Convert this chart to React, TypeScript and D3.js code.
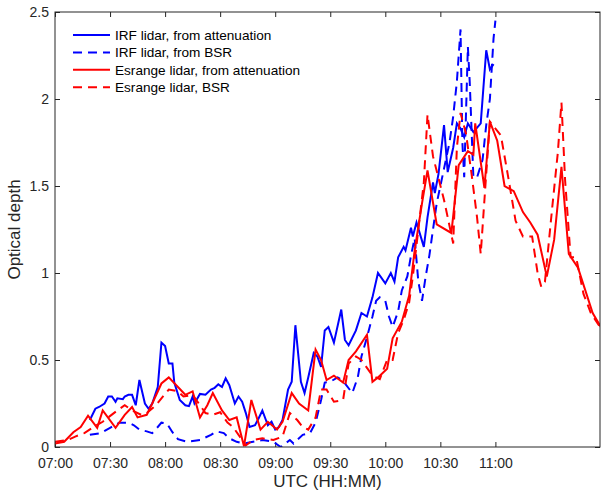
import React, { useEffect, useRef } from 'react';
import * as d3 from 'd3';

// [UTC time, optical depth]
const irfAttenuation: [string, number][] = [
    ['07:19', 0.155], ['07:22', 0.22], ['07:24', 0.23], ['07:27', 0.25], ['07:29', 0.29], ['07:31', 0.29],
    ['07:33', 0.26], ['07:34', 0.28], ['07:37', 0.275], ['07:38', 0.29], ['07:40', 0.3], ['07:42', 0.3],
    ['07:44', 0.24], ['07:46', 0.385], ['07:49', 0.25], ['07:51', 0.22], ['07:53', 0.25], ['07:56', 0.345],
    ['07:58', 0.6], ['08:00', 0.58], ['08:02', 0.48], ['08:04', 0.48], ['08:05', 0.37], ['08:08', 0.27],
    ['08:11', 0.24], ['08:13', 0.235], ['08:15', 0.29], ['08:16', 0.25], ['08:19', 0.305], ['08:22', 0.3],
    ['08:25', 0.33], ['08:27', 0.34], ['08:29', 0.36], ['08:31', 0.345], ['08:33', 0.395], ['08:35', 0.355],
    ['08:38', 0.25], ['08:40', 0.29], ['08:42', 0.26], ['08:44', 0.195], ['08:46', 0.115], ['08:49', 0.125],
    ['08:51', 0.165], ['08:53', 0.21], ['08:56', 0.125], ['08:58', 0.145], ['09:00', 0.1], ['09:02', 0.115],
    ['09:04', 0.155], ['09:07', 0.33], ['09:09', 0.375], ['09:11', 0.7], ['09:14', 0.375], ['09:16', 0.31],
    ['09:18', 0.4], ['09:21', 0.54], ['09:23', 0.52], ['09:25', 0.46], ['09:27', 0.67], ['09:29', 0.69],
    ['09:32', 0.6], ['09:36', 0.79], ['09:38', 0.615], ['09:40', 0.585], ['09:44', 0.67], ['09:47', 0.77],
    ['09:50', 0.75], ['09:53', 0.86], ['09:56', 1.0], ['10:00', 0.94], ['10:03', 1.0], ['10:05', 0.95],
    ['10:07', 1.09], ['10:10', 1.15], ['10:11', 1.13], ['10:14', 1.26], ['10:15', 1.21], ['10:17', 1.29],
    ['10:21', 1.15], ['10:23', 1.32], ['10:26', 1.52], ['10:27', 1.46], ['10:29', 1.57], ['10:32', 1.85],
    ['10:34', 1.58], ['10:37', 1.72], ['10:39', 1.86], ['10:41', 1.83], ['10:43', 1.78], ['10:45', 1.86],
    ['10:48', 1.81], ['10:52', 1.86], ['10:55', 2.28], ['10:57', 2.17], ['10:59', 2.2],
];

const irfBsr: [string, number][] = [
    ['07:19', 0.07], ['07:25', 0.08], ['07:30', 0.11], ['07:35', 0.14], ['07:40', 0.14], ['07:43', 0.125],
    ['07:46', 0.1], ['07:50', 0.09], ['07:53', 0.08], ['07:56', 0.115], ['07:58', 0.14], ['08:01', 0.135],
    ['08:04', 0.085], ['08:07', 0.045], ['08:12', 0.03], ['08:19', 0.04], ['08:25', 0.07], ['08:28', 0.09],
    ['08:32', 0.08], ['08:35', 0.05], ['08:39', 0.03], ['08:43', 0.02], ['08:53', 0.04], ['08:59', 0.03],
    ['09:03', 0.0], ['09:08', 0.04], ['09:10', 0.02], ['09:15', 0.07], ['09:19', 0.08], ['09:22', 0.14],
    ['09:25', 0.27], ['09:27', 0.37], ['09:30', 0.375], ['09:34', 0.4], ['09:37', 0.38], ['09:42', 0.31],
    ['09:45', 0.4], ['09:47', 0.52], ['09:50', 0.63], ['09:53', 0.75], ['09:55', 0.84], ['09:57', 0.86],
    ['10:00', 0.84], ['10:02', 0.75], ['10:04', 0.69], ['10:07', 0.78], ['10:09', 0.9], ['10:12', 0.98],
    ['10:14', 1.1], ['10:16', 1.2], ['10:18', 0.95], ['10:20', 0.84], ['10:22', 0.98], ['10:24', 1.1],
    ['10:26', 1.25], ['10:28', 1.4], ['10:30', 1.5], ['10:32', 1.6], ['10:35', 1.75], ['10:37', 1.9],
    ['10:39', 2.1], ['10:41', 2.4], ['10:42', 1.75], ['10:43', 1.55], ['10:45', 2.3], ['10:46', 2.1],
    ['10:48', 1.55], ['10:50', 1.55], ['10:53', 1.65], ['10:55', 1.85], ['10:57', 2.0], ['10:59', 2.35],
    ['11:00', 2.45],
];

const esrangeAttenuation: [string, number][] = [
    ['07:00', 0.02], ['07:05', 0.03], ['07:10', 0.085], ['07:14', 0.115], ['07:18', 0.18], ['07:23', 0.11],
    ['07:26', 0.21], ['07:33', 0.11], ['07:38', 0.185], ['07:42', 0.23], ['07:45', 0.17], ['07:50', 0.185],
    ['07:53', 0.25], ['07:58', 0.365], ['08:02', 0.4], ['08:07', 0.345], ['08:11', 0.3], ['08:15', 0.32],
    ['08:19', 0.17], ['08:23', 0.24], ['08:26', 0.31], ['08:31', 0.21], ['08:35', 0.155], ['08:39', 0.17],
    ['08:43', 0.005], ['08:47', 0.27], ['08:52', 0.1], ['08:56', 0.145], ['09:01', 0.1], ['09:04', 0.145],
    ['09:09', 0.31], ['09:13', 0.25], ['09:18', 0.21], ['09:22', 0.56], ['09:25', 0.5], ['09:28', 0.385],
    ['09:32', 0.41], ['09:37', 0.37], ['09:40', 0.5], ['09:44', 0.55], ['09:50', 0.645], ['09:53', 0.375],
    ['09:56', 0.4], ['10:01', 0.45], ['10:04', 0.625], ['10:09', 0.72], ['10:13', 0.87], ['10:16', 1.13],
    ['10:20', 1.4], ['10:23', 1.59], ['10:28', 1.28], ['10:36', 1.23], ['10:40', 1.62], ['10:45', 1.7],
    ['10:48', 1.68], ['10:49', 1.86], ['10:54', 1.49], ['10:57', 1.87], ['11:01', 1.76], ['11:05', 1.5],
    ['11:10', 1.47], ['11:15', 1.35], ['11:19', 1.29], ['11:23', 1.22], ['11:28', 0.98], ['11:32', 1.19],
    ['11:36', 1.61], ['11:40', 1.11], ['11:45', 1.03], ['11:49', 0.9], ['11:53', 0.77], ['11:58', 0.68],
];

const esrangeBsr: [string, number][] = [
    ['07:00', 0.03], ['07:07', 0.04], ['07:11', 0.06], ['07:16', 0.08], ['07:21', 0.115], ['07:26', 0.145],
    ['07:29', 0.17], ['07:34', 0.21], ['07:38', 0.24], ['07:42', 0.21], ['07:47', 0.185], ['07:50', 0.195],
    ['07:55', 0.24], ['07:58', 0.28], ['08:02', 0.33], ['08:07', 0.32], ['08:10', 0.29], ['08:15', 0.3],
    ['08:22', 0.195], ['08:26', 0.185], ['08:30', 0.2], ['08:34', 0.14], ['08:37', 0.115], ['08:44', 0.01],
    ['08:48', 0.04], ['08:53', 0.05], ['08:59', 0.04], ['09:04', 0.06], ['09:08', 0.195], ['09:12', 0.155],
    ['09:15', 0.115], ['09:18', 0.1], ['09:22', 0.17], ['09:25', 0.33], ['09:28', 0.33], ['09:32', 0.26],
    ['09:37', 0.27], ['09:40', 0.48], ['09:44', 0.52], ['09:47', 0.5], ['09:51', 0.44], ['09:53', 0.41],
    ['09:57', 0.39], ['10:01', 0.5], ['10:04', 0.5], ['10:07', 0.655], ['10:10', 0.73], ['10:13', 0.83],
    ['10:15', 0.98], ['10:18', 1.25], ['10:21', 1.52], ['10:23', 1.91], ['10:26', 1.67], ['10:32', 1.42],
    ['10:37', 1.17], ['10:39', 1.72], ['10:41', 1.92], ['10:44', 1.8], ['10:47', 1.57], ['10:50', 1.32],
    ['10:52', 1.11], ['10:55', 1.57], ['10:57', 1.87], ['11:03', 1.79], ['11:07', 1.55], ['11:11', 1.3],
    ['11:15', 1.21], ['11:20', 1.21], ['11:23', 1.0], ['11:25', 0.92], ['11:27', 0.95], ['11:31', 1.38],
    ['11:34', 1.69], ['11:36', 1.98], ['11:38', 1.53], ['11:41', 1.09], ['11:44', 1.09], ['11:48', 0.88],
    ['11:52', 0.77], ['11:57', 0.69],
];

const seriesNames = [
    'IRF lidar, from attenuation',
    'IRF lidar, from BSR',
    'Esrange lidar, from attenuation',
    'Esrange lidar, BSR',
];

const xTickLabels = ['07:00', '07:30', '08:00', '08:30', '09:00', '09:30', '10:00', '10:30', '11:00'];
const yTicks = [0, 0.5, 1, 1.5, 2, 2.5];
const timeStart = '07:00';
const timeEnd = '11:57';

const WIDTH = 602;
const HEIGHT = 493;
const margin = { top: 12, right: 2, bottom: 46, left: 55 };
const FONT = '"Liberation Sans", Arial, Helvetica, sans-serif';
const AXIS_COLOR = '#262626';

const App = () => {
    const svgRef = useRef(null);

    useEffect(() => {
        const svg = d3.select(svgRef.current);
        svg.selectAll('*').remove();

        const w = WIDTH - margin.left - margin.right;
        const h = HEIGHT - margin.top - margin.bottom;
        const parse = d3.timeParse('%H:%M');

        const x = d3.scaleTime()
            .domain([parse(timeStart), parse(timeEnd)])
            .range([0, w]);
        const y = d3.scaleLinear()
            .domain([0, 2.5])
            .range([h, 0]);

        const g = svg.append('g')
            .attr('transform', `translate(${margin.left},${margin.top})`);

        g.append('defs').append('clipPath').attr('id', 'plot-clip')
            .append('rect').attr('width', w).attr('height', h);

        const line = d3.line<[string, number]>()
            .x(d => x(parse(d[0])))
            .y(d => y(d[1]));

        const series = [
            { data: irfAttenuation, color: '#0000ff', dash: null },
            { data: irfBsr, color: '#0000ff', dash: '9,6' },
            { data: esrangeAttenuation, color: '#ff0000', dash: null },
            { data: esrangeBsr, color: '#ff0000', dash: '9,6' },
        ];

        const tickDates = xTickLabels.map(t => parse(t));
        const fmt = d3.timeFormat('%H:%M');

        // axes, matlab style: ticks inside, box all round
        const styleAxis = (sel) => {
            sel.select('.domain').remove();
            sel.selectAll('.tick line').attr('stroke', AXIS_COLOR);
            sel.selectAll('.tick text')
                .attr('fill', AXIS_COLOR)
                .style('font-family', FONT)
                .style('font-size', '14px');
        };

        g.append('g')
            .attr('transform', `translate(0,${h})`)
            .call(d3.axisBottom(x).tickValues(tickDates).tickFormat(fmt).tickSizeInner(-5).tickSizeOuter(0).tickPadding(11))
            .call(styleAxis);
        g.append('g')
            .call(d3.axisTop(x).tickValues(tickDates).tickFormat(() => '').tickSizeInner(-5).tickSizeOuter(0))
            .call(styleAxis);
        g.append('g')
            .call(d3.axisLeft(y).tickValues(yTicks).tickFormat(d3.format('')).tickSizeInner(-5).tickSizeOuter(0).tickPadding(6))
            .call(styleAxis);
        g.append('g')
            .attr('transform', `translate(${w},0)`)
            .call(d3.axisRight(y).tickValues(yTicks).tickFormat(() => '').tickSizeInner(-5).tickSizeOuter(0))
            .call(styleAxis);

        const lines = g.append('g').attr('clip-path', 'url(#plot-clip)');
        series.forEach(s => {
            lines.append('path')
                .datum(s.data)
                .attr('fill', 'none')
                .attr('stroke', s.color)
                .attr('stroke-width', 2)
                .attr('stroke-dasharray', s.dash)
                .attr('d', line);
        });

        g.append('rect')
            .attr('width', w)
            .attr('height', h)
            .attr('fill', 'none')
            .attr('stroke', AXIS_COLOR)
            .attr('stroke-width', 1);

        // legend
        const legend = g.append('g').attr('transform', 'translate(18,23)');
        series.forEach((s, i) => {
            const row = legend.append('g').attr('transform', `translate(0,${i * 17.4})`);
            row.append('line')
                .attr('x1', 0).attr('x2', 37)
                .attr('stroke', s.color)
                .attr('stroke-width', 2)
                .attr('stroke-dasharray', s.dash);
            row.append('text')
                .attr('x', 42)
                .attr('dy', '0.35em')
                .attr('fill', '#000')
                .style('font-family', FONT)
                .style('font-size', '13.6px')
                .text(seriesNames[i]);
        });

        svg.append('text')
            .attr('x', margin.left + w / 2)
            .attr('y', 487)
            .attr('text-anchor', 'middle')
            .attr('fill', AXIS_COLOR)
            .style('font-family', FONT)
            .style('font-size', '17px')
            .text('UTC (HH:MM)');

        svg.append('text')
            .attr('transform', `translate(20,${margin.top + h / 2}) rotate(-90)`)
            .attr('text-anchor', 'middle')
            .attr('fill', AXIS_COLOR)
            .style('font-family', FONT)
            .style('font-size', '17px')
            .text('Optical depth');
    }, []);

    return (
        <div style={{ position: 'absolute', left: 0, top: 0 }}>
            <svg ref={svgRef} width={WIDTH} height={HEIGHT} style={{ display: 'block', background: '#fff' }}></svg>
        </div>
    );
};

export default App;
